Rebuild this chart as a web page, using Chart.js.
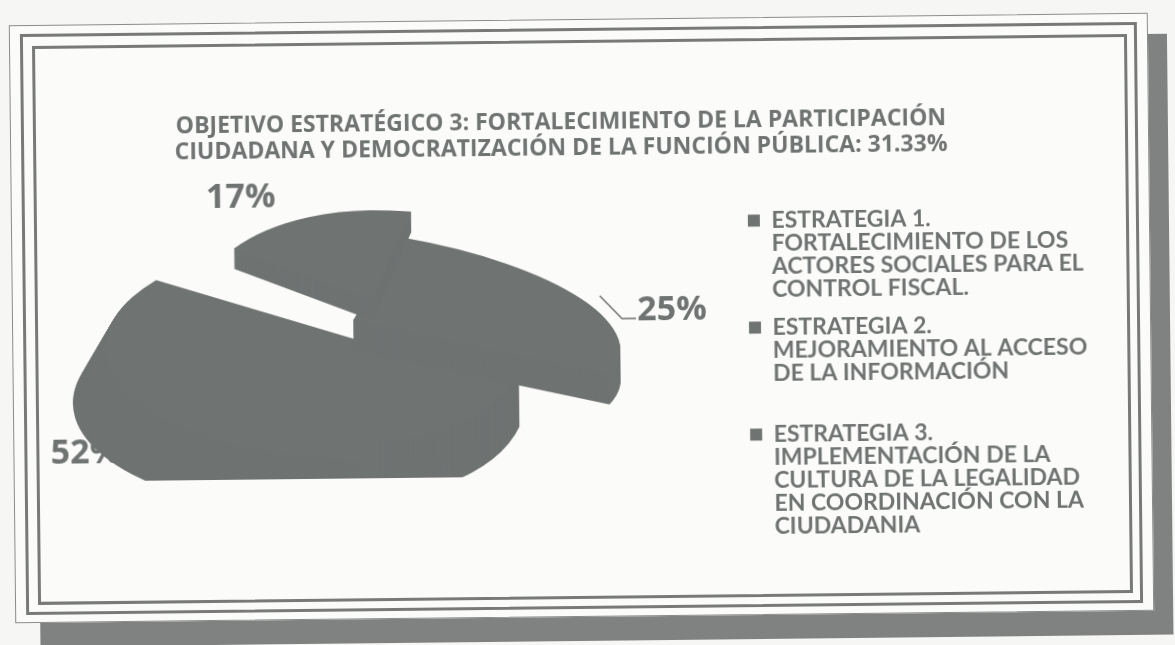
<!DOCTYPE html>
<html><head><meta charset="utf-8">
<script src="https://cdn.jsdelivr.net/npm/chart.js@4"></script>
<style>
html,body{margin:0;padding:0;background:#f6f6f4;overflow:hidden}
#page{position:relative;width:1175px;height:645px;overflow:hidden}
#stage{position:absolute;left:0;top:0;width:1175px;height:645px;transform-origin:582px 319px;transform:rotate(-0.62deg)}
.box{position:absolute;box-sizing:border-box}
#wrap{position:absolute;left:29px;top:30px;width:1068px;height:560px;filter:blur(.6px)}
canvas{display:block}
</style></head><body><div id="page"><div id="stage">
<div class="box" style="left:37px;top:40px;width:1133px;height:601px;background:#7f8281"></div>
<div class="box" style="left:12px;top:19px;width:1139px;height:598px;background:#fbfbfa;border:1px solid #8a8c8b"></div>
<div class="box" style="left:23px;top:28px;width:1117px;height:581px;border:3px solid #777a79"></div>
<div class="box" style="left:35px;top:40px;width:1095px;height:559px;border:3px solid #777a79"></div>
<div id="wrap"><canvas id="c" width="1068" height="560"></canvas></div>
</div></div>
<script>
const categories=[
 ['ESTRATEGIA 1.','FORTALECIMIENTO DE LOS','ACTORES SOCIALES PARA EL','CONTROL FISCAL.'],
 ['ESTRATEGIA 2.','MEJORAMIENTO AL ACCESO','DE LA INFORMACIÓN',''],
 ['ESTRATEGIA 3.','IMPLEMENTACIÓN DE LA','CULTURA DE LA LEGALIDAD','EN COORDINACIÓN CON LA','CIUDADANIA']
];
const values=[17,25,52];
const titleLines=['OBJETIVO ESTRATÉGICO 3: FORTALECIMIENTO DE LA PARTICIPACIÓN','CIUDADANA Y DEMOCRATIZACIÓN DE LA FUNCIÓN PÚBLICA: 31.33%'];
const ink='#6f7372';
// look of each exploded, tilted wedge of the scanned 3-D pie
const looks=[
 {x:343,y:268,L:{rx:170,ry:90,depth:20},R:{rx:210,ry:90,depth:20}},
 {x:324,y:288,L:{rx:267,ry:90,depth:30},R:{rx:267,ry:90,depth:30},skew:.12},
 {x:346,y:313,L:{rx:270,ry:115,depth:55,lean:.6},R:{rx:150,ry:95,depth:55},floor:446}
];
const labelAt=[[213,164],[643,281],[55,418]];
function drawWedge(ctx,a,l){
 const R=a.outerRadius;
 [[-1,l.L],[1,l.R]].forEach(([side,s])=>{
  for(let d=s.depth;d>=0;d-=1){
   ctx.save();
   if(l.floor){ctx.beginPath();ctx.rect(0,0,2000,l.floor);ctx.clip();}
   ctx.beginPath();ctx.rect(side<0?0:l.x,0,side<0?l.x:2000,2000);ctx.clip();
   const ox=l.x-d*(s.lean||0),oy=l.y+d;
   ctx.translate(ox,oy);
   if(l.skew)ctx.transform(1,l.skew,0,1,0,0);
   ctx.scale(s.rx/R,s.ry/R);ctx.translate(-a.x,-a.y);
   a.draw(ctx);ctx.restore();
  }
 });
}
const pie3d={id:'pie3d',
 beforeDatasetDraw(chart){
  const ctx=chart.ctx,arcs=chart.getDatasetMeta(0).data;
  ctx.save();ctx.fillStyle=ink;ctx.font='bold 34px "Open Sans"';ctx.textBaseline='middle';ctx.textAlign='center';
  arcs.forEach((a,i)=>ctx.fillText(values[i]+'%',labelAt[i][0],labelAt[i][1]));
  ctx.restore();
  [2,1,0].forEach(i=>drawWedge(ctx,arcs[i],looks[i]));
  const L=labelAt[1];
  ctx.save();ctx.strokeStyle=ink;ctx.lineWidth=1.5;ctx.beginPath();
  ctx.moveTo(L[0]-72,L[1]-15);ctx.lineTo(L[0]-50,L[1]+8);ctx.lineTo(L[0]-36,L[1]+8);ctx.stroke();ctx.restore();
  return false;
 }};
new Chart(document.getElementById('c'),{type:'pie',plugins:[pie3d],
 data:{labels:categories,datasets:[{data:values,backgroundColor:ink,borderWidth:0}]},
 options:{responsive:false,animation:false,rotation:-54,radius:250,
  plugins:{tooltip:{enabled:false},
   title:{display:true,text:titleLines,color:ink,font:{family:'"Open Sans"',size:23,weight:'bold',lineHeight:1.13},padding:{top:79,bottom:0}},
   legend:{position:'right',fullSize:false,labels:{font:{family:'Lato',size:23,weight:'bold',lineHeight:1},boxWidth:12,boxHeight:12,padding:15,
     generateLabels(ch){return categories.map((t,i)=>({text:t,fillStyle:ink,strokeStyle:ink,fontColor:ink,lineWidth:0,index:i}));}}}}
 }});
</script></body></html>
